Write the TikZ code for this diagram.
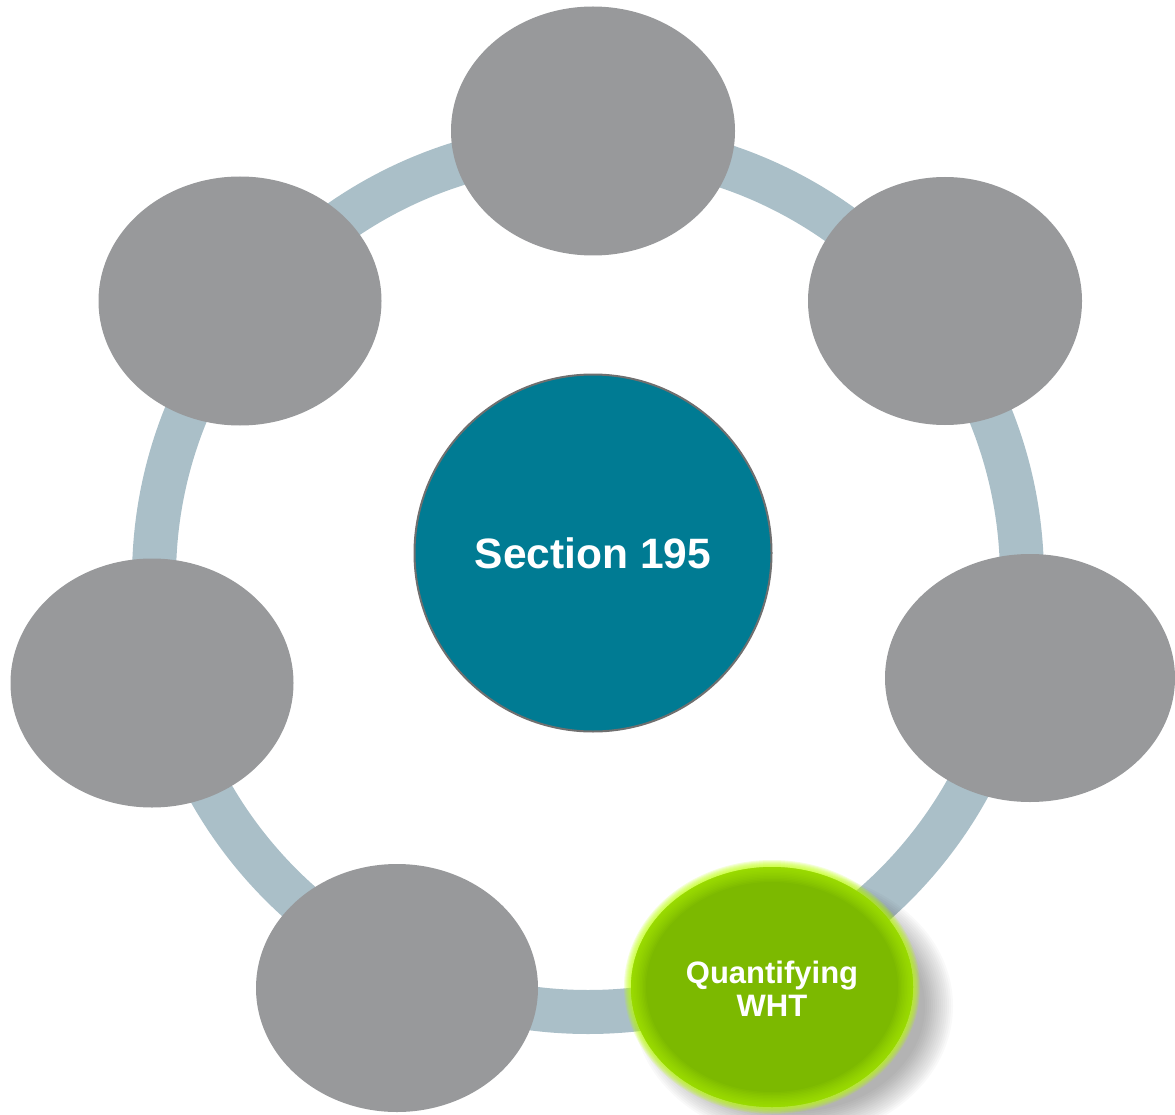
\documentclass[tikz,border=0pt]{standalone}
\usepackage{fontspec}
\setmainfont{Liberation Sans}
\usetikzlibrary{shapes.geometric}
\definecolor{ringcol}{HTML}{AABFC8}
\definecolor{graycol}{HTML}{98999B}
\definecolor{tealcol}{HTML}{007B93}
\definecolor{greencol}{HTML}{7CB900}
\definecolor{glowcol}{HTML}{BBFF00}
\definecolor{rimcol}{HTML}{6F6F6F}
\begin{document}
\begin{tikzpicture}[x=1pt,y=-1pt,
  ringstyle/.style={draw=ringcol, line width=44pt},
  bubble/.style={ellipse, fill=graycol, inner sep=0pt, minimum width=#1},
  bubble/.default=283pt,
  hub/.style={circle, fill=tealcol, draw=rimcol, line width=2pt, minimum size=357pt, inner sep=0pt,
    text=white, font=\bfseries\fontsize{42.5}{46}\selectfont},
  active/.style={ellipse, fill=greencol, inner sep=0pt, minimum width=282pt, minimum height=240pt},
  activelabel/.style={text=white, align=center, font=\bfseries\fontsize{31}{33}\selectfont}
]
\useasboundingbox (0,0) rectangle (1175,1115);
\clip (0,0) rectangle (1175,1115);
% ring
\coordinate (ringcenter) at (588,578);
\draw[ringstyle] (ringcenter) circle[radius=434pt];
% grey bubbles
\node[bubble=284pt, minimum height=249pt] (top) at (593,131) {};
\node[bubble=274pt, minimum height=248pt] (ur) at (945,301) {};
\node[bubble=290pt, minimum height=248pt] (right) at (1030,678) {};
\node[bubble=282pt, minimum height=248pt] (bottom) at (397,988) {};
\node[bubble=283pt, minimum height=249pt] (left) at (152,683) {};
\node[bubble=283pt, minimum height=249pt] (ul) at (240,301) {};
% shadow of active bubble
\coordinate (shc) at (793,1006);
\foreach \k in {0,...,14}{
  \fill[black, opacity=0.024] (shc) ellipse[x radius={160pt-2pt*\k}, y radius={134pt-2pt*\k}];
}
% outer glow of active bubble
\coordinate (glc) at (772,987);
\foreach \k in {0,...,6}{
  \fill[glowcol, opacity=0.15] (glc) ellipse[x radius={148pt-1pt*\k}, y radius={127pt-1pt*\k}];
}
\node[active] (active) at (772,987) {};
% inner glow
\begin{scope}
  \clip (glc) ellipse[x radius=141pt, y radius=120pt];
  \foreach \k in {1,...,10}{
    \draw[glowcol, opacity=0.07, line width={3pt*\k}] (glc) ellipse[x radius=141pt, y radius=120pt];
  }
\end{scope}
\node[activelabel] (activetext) at (772,989) {Quantifying\\WHT};
% hub
\node[hub] (hub) at (593,553) {Section 195};
\end{tikzpicture}
\end{document}
